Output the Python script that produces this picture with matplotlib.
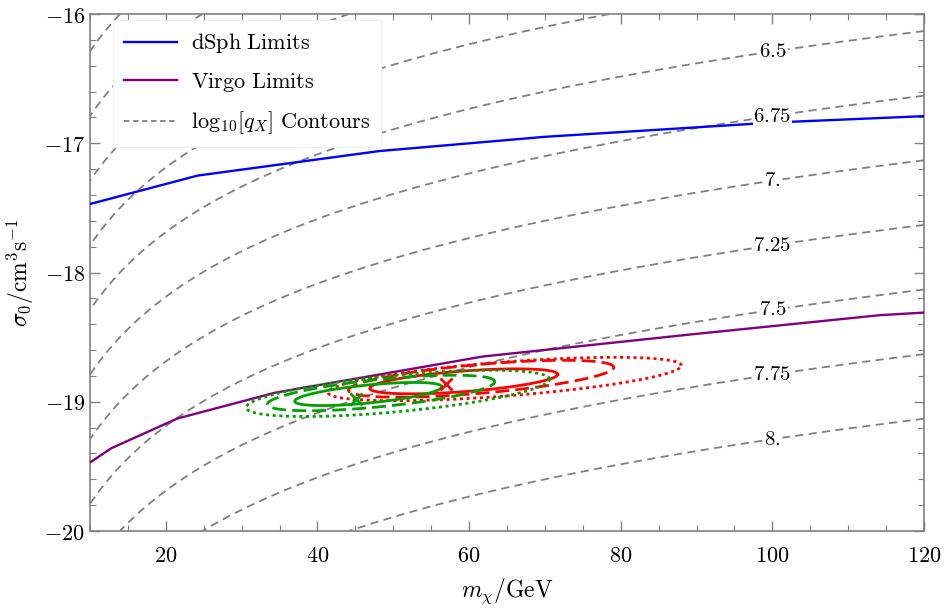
import numpy as np
import matplotlib
matplotlib.use("Agg")
import matplotlib.pyplot as plt
from matplotlib.ticker import MultipleLocator, FuncFormatter
from matplotlib.lines import Line2D

plt.rcParams['mathtext.fontset'] = 'cm'
plt.rcParams['font.family'] = ['DejaVu Serif']

# ---- data ----
dsph_m = [10, 24.2, 48.2, 70, 100, 120]
dsph_y = [-17.47, -17.25, -17.06, -16.95, -16.84, -16.79]

virgo_m = [10, 12.8, 21.5, 34.4, 61.8, 89.1, 114.2, 120]
virgo_y = [-19.47, -19.36, -19.13, -18.93, -18.65, -18.48, -18.33, -18.31]

# log10[q_X] contour field: L = log10(m) - y/2 + q_offset
q_offset = -3.645
plain_levels = [5.5, 5.75, 6.0, 6.25]
label_levels = [6.5, 6.75, 7.0, 7.25, 7.5, 7.75, 8.0]
label_texts = ["6.5", "6.75", "7.", "7.25", "7.5", "7.75", "8."]
label_m = 100

# confidence ellipses (1,2,3 sigma): centre, half-length in m, tilt, half-thickness in y
red_c_m = [59.3, 61.6, 64.7]
red_c_y = [-18.842, -18.822, -18.824]
red_half_m = [12.4, 17.5, 23.3]
red_slope = [0.00437, 0.00507, 0.00446]
red_half_y = [0.080, 0.112, 0.132]
red_best = (56.9, -18.865)

green_c_m = [46.7, 48.4, 50.6]
green_c_y = [-18.940, -18.932, -18.935]
green_half_m = [9.7, 15.0, 20.0]
green_slope = [0.00575, 0.00584, 0.00546]
green_half_y = [0.070, 0.106, 0.142]
green_best = (45.1, -18.98)

sigma_styles = ['-', (0, (5, 2.2)), (0, (1.1, 1.3))]

# ---- figure ----
fig = plt.figure(figsize=(9.44, 6.10), dpi=100)
ax = fig.add_axes([0.0953, 0.1295, 0.8835, 0.8475])

mm = np.linspace(10, 120, 600)
yy = np.linspace(-20, -16, 400)
M, Y = np.meshgrid(mm, yy)
Q = np.log10(M) - Y / 2 + q_offset
ckw = dict(colors=['#808080'], linewidths=1.3, linestyles=[(0, (4.5, 3))], zorder=1)
ax.contour(M, Y, Q, levels=plain_levels, **ckw)
cs = ax.contour(M, Y, Q, levels=label_levels, **ckw)

fmt = {lv: "$" + t + "$" for lv, t in zip(label_levels, label_texts)}
positions = [(label_m, 2 * (np.log10(label_m) + q_offset - lv)) for lv in label_levels]
texts = ax.clabel(cs, fmt=fmt, manual=positions,
                  inline=True, inline_spacing=2, fontsize=15, colors='black')
for t in texts:
    t.set_rotation(0)
    t.set_zorder(6)
    t.set_bbox(dict(facecolor='white', edgecolor='none', pad=0.3))

ax.plot(dsph_m, dsph_y, color='#0000ff', lw=1.7, zorder=3)
ax.plot(virgo_m, virgo_y, color='#800080', lw=1.7, zorder=3)

tt = np.linspace(0, 2 * np.pi, 500)
def draw_ellipses(cm_, cy_, hm_, sl_, hy_, color):
    for cmv, cyv, hm, sl, hy, ls in zip(cm_, cy_, hm_, sl_, hy_, sigma_styles):
        xm = cmv + hm * np.cos(tt)
        ym = cyv + sl * hm * np.cos(tt) + hy * np.sin(tt)
        ax.plot(xm, ym, color=color, lw=2.0, linestyle=ls, zorder=4)

draw_ellipses(red_c_m, red_c_y, red_half_m, red_slope, red_half_y, '#ff0000')
draw_ellipses(green_c_m, green_c_y, green_half_m, green_slope, green_half_y, '#00a000')
ax.plot([red_best[0]], [red_best[1]], marker='x', color='#ff0000', ms=8, mew=2, zorder=5)
ax.plot([green_best[0]], [green_best[1]], marker='x', color='#00a000', ms=8, mew=2, zorder=5)

ax.set_xlim(10, 120)
ax.set_ylim(-20, -16)
ax.xaxis.set_major_locator(MultipleLocator(20))
ax.xaxis.set_minor_locator(MultipleLocator(5))
ax.yaxis.set_major_locator(MultipleLocator(1))
ax.yaxis.set_minor_locator(MultipleLocator(0.2))
ax.xaxis.set_major_formatter(FuncFormatter(lambda v, p: "$%g$" % v))
ax.yaxis.set_major_formatter(FuncFormatter(lambda v, p: "$%g$" % v))
ax.tick_params(which='both', direction='in', top=True, right=True, color='#808080',
               labelsize=16)
ax.tick_params(axis='x', pad=10)
ax.tick_params(axis='y', pad=3.5)
ax.tick_params(which='major', length=7, width=1)
ax.tick_params(which='minor', length=4, width=0.8)
for s in ax.spines.values():
    s.set_color('#808080')
    s.set_linewidth(1.2)

ax.set_xlabel(r"$m_\chi/\mathrm{GeV}$", fontsize=17, labelpad=7)
ax.set_ylabel(r"$\sigma_0/\mathrm{cm}^3\mathrm{s}^{-1}$", fontsize=17, labelpad=6)

handles = [Line2D([], [], color='#0000ff', lw=1.7),
           Line2D([], [], color='#800080', lw=1.7),
           Line2D([], [], color='#808080', lw=1.3, linestyle=(0, (3, 2)))]
labels = [r"$\mathrm{dSph\ Limits}$", r"$\mathrm{Virgo\ Limits}$",
          r"$\mathrm{log}_{10}[q_X]\ \mathrm{Contours}$"]
leg = ax.legend(handles, labels, loc='upper left', bbox_to_anchor=(0.0276, 0.988),
                borderaxespad=0, fontsize=16, frameon=True, fancybox=False,
                framealpha=1, edgecolor='#f0f0f0', handlelength=2.4,
                borderpad=0.5, labelspacing=0.7, handletextpad=0.6)
leg.set_zorder(7)
leg.get_frame().set_linewidth(0.8)

fig.savefig("out.png", dpi=100)
